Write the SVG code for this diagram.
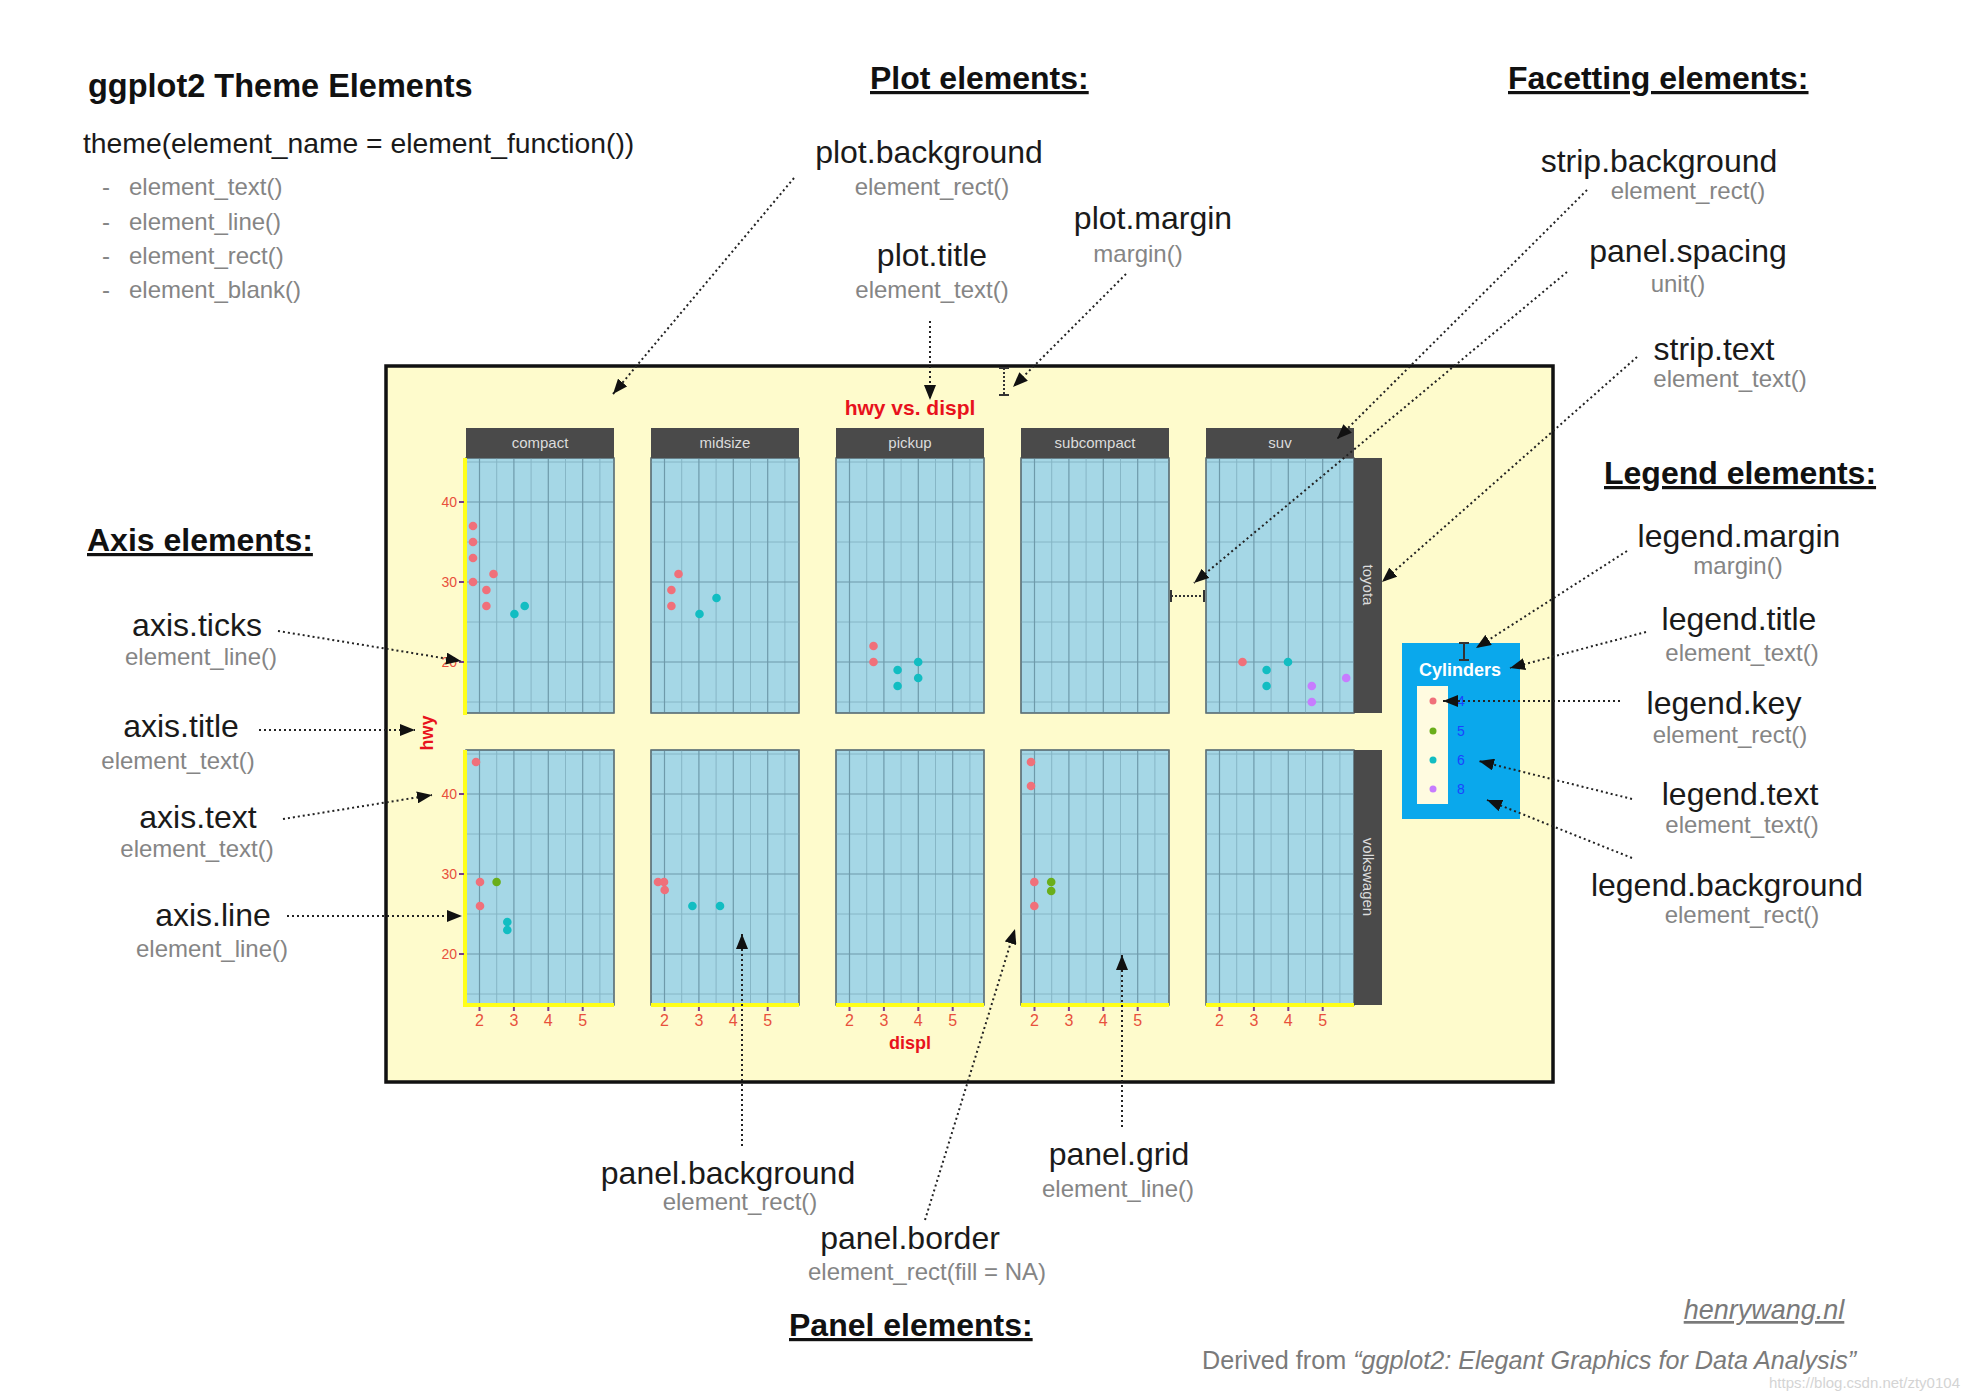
<svg xmlns="http://www.w3.org/2000/svg" xmlns:xlink="http://www.w3.org/1999/xlink" width="1969" height="1400" viewBox="0 0 1969 1400">
<style>
text{font-family:"Liberation Sans",Arial,sans-serif}
.hd{font-size:32px;font-weight:bold;fill:#111;text-decoration:underline}
.lbl{font-size:32px;fill:#1a1a1a;text-anchor:middle}
.sub{font-size:24px;fill:#858585;text-anchor:middle}
.bul{font-size:24px;fill:#858585}
.con{fill:none;stroke:#222;stroke-width:2;stroke-dasharray:2 3}
.ib{fill:none;stroke:#333;stroke-width:2}
.ibd{fill:none;stroke:#333;stroke-width:2;stroke-dasharray:2 2}
.pbg{fill:#a5d7e6;stroke:#5d7178;stroke-width:1.2}
.gmin{stroke:#86b6c6;stroke-width:1}
.gmaj{stroke:#6e9aaa;stroke-width:1.2}
.strip{fill:#4a4a4a}
.stxt{font-size:15px;fill:#dcdcdc;text-anchor:middle}
.ytk{font-size:14px;fill:#e8503c;text-anchor:end}
.xtk{font-size:16px;fill:#e8503c;text-anchor:middle}
.tick{stroke:#7a3f8a;stroke-width:2}
.yax{fill:#ffff1a}
.r{fill:#f0707a}.t{fill:#12bdc2}.g{fill:#6aae1a}.p{fill:#c77cff}
</style>
<defs>
<marker id="ah" markerUnits="userSpaceOnUse" markerWidth="16" markerHeight="12" refX="15" refY="6" orient="auto">
<path d="M0,0 L15,6 L0,12 z" fill="#111"/>
</marker>
<g id="panel">
<rect class="pbg" x="0" y="0" width="148" height="255"/>
<g class="gmin">
<line x1="0" y1="4" x2="148" y2="4"/><line x1="0" y1="84" x2="148" y2="84"/><line x1="0" y1="164" x2="148" y2="164"/><line x1="0" y1="244" x2="148" y2="244"/>
<line x1="30.7" y1="0" x2="30.7" y2="255"/><line x1="65.1" y1="0" x2="65.1" y2="255"/><line x1="99.5" y1="0" x2="99.5" y2="255"/><line x1="133.9" y1="0" x2="133.9" y2="255"/>
</g>
<g class="gmaj">
<line x1="0" y1="44" x2="148" y2="44"/><line x1="0" y1="124" x2="148" y2="124"/><line x1="0" y1="204" x2="148" y2="204"/>
<line x1="13.5" y1="0" x2="13.5" y2="255"/><line x1="47.9" y1="0" x2="47.9" y2="255"/><line x1="82.3" y1="0" x2="82.3" y2="255"/><line x1="116.7" y1="0" x2="116.7" y2="255"/>
</g>
<rect x="0" y="0" width="148" height="255" fill="none" stroke="#5d7178" stroke-width="1.2"/>
</g>
<g id="xaxis">
<rect class="yax" x="0" y="253" width="148" height="4"/>
<line class="tick" x1="13.5" y1="257" x2="13.5" y2="261"/><line class="tick" x1="47.9" y1="257" x2="47.9" y2="261"/><line class="tick" x1="82.3" y1="257" x2="82.3" y2="261"/><line class="tick" x1="116.7" y1="257" x2="116.7" y2="261"/>
<text class="xtk" x="13.5" y="276">2</text><text class="xtk" x="47.9" y="276">3</text><text class="xtk" x="82.3" y="276">4</text><text class="xtk" x="116.7" y="276">5</text>
</g>
</defs>
<rect x="0" y="0" width="1969" height="1400" fill="#ffffff"/>

<g id="header">
<text x="88" y="97" style="font-size:32.5px;font-weight:bold;fill:#111">ggplot2 Theme Elements</text>
<text x="83" y="153" style="font-size:28.3px;fill:#1a1a1a">theme(element_name = element_function())</text>
<text class="bul" x="102" y="195">-</text><text class="bul" x="129" y="195">element_text()</text>
<text class="bul" x="102" y="230">-</text><text class="bul" x="129" y="230">element_line()</text>
<text class="bul" x="102" y="264">-</text><text class="bul" x="129" y="264">element_rect()</text>
<text class="bul" x="102" y="298">-</text><text class="bul" x="129" y="298">element_blank()</text>
</g>

<g id="section-headers">
<text class="hd" x="870" y="89">Plot elements:</text>
<text class="hd" x="1508" y="89">Facetting elements:</text>
<text class="hd" x="87" y="551">Axis elements:</text>
<text class="hd" x="1604" y="484">Legend elements:</text>
<text class="hd" x="789" y="1336">Panel elements:</text>
</g>

<g id="plot">
<rect x="386" y="366" width="1167" height="716" fill="#fefbcc" stroke="#111" stroke-width="3.5"/>
<text x="910" y="415" style="font-size:21px;font-weight:bold;fill:#e8121c;text-anchor:middle">hwy vs. displ</text>
<text x="910" y="1049" style="font-size:18px;font-weight:bold;fill:#e8121c;text-anchor:middle">displ</text>
<text transform="translate(433,733) rotate(-90)" style="font-size:18px;font-weight:bold;fill:#e8121c;text-anchor:middle">hwy</text>

<g id="panels">
<use xlink:href="#panel" x="466" y="458"/><use xlink:href="#panel" x="651" y="458"/><use xlink:href="#panel" x="836" y="458"/><use xlink:href="#panel" x="1021" y="458"/><use xlink:href="#panel" x="1206" y="458"/>
<use xlink:href="#panel" x="466" y="750"/><use xlink:href="#panel" x="651" y="750"/><use xlink:href="#panel" x="836" y="750"/><use xlink:href="#panel" x="1021" y="750"/><use xlink:href="#panel" x="1206" y="750"/>
</g>

<g id="strips">
<rect class="strip" x="466" y="428" width="148" height="30"/><text class="stxt" x="540" y="448">compact</text>
<rect class="strip" x="651" y="428" width="148" height="30"/><text class="stxt" x="725" y="448">midsize</text>
<rect class="strip" x="836" y="428" width="148" height="30"/><text class="stxt" x="910" y="448">pickup</text>
<rect class="strip" x="1021" y="428" width="148" height="30"/><text class="stxt" x="1095" y="448">subcompact</text>
<rect class="strip" x="1206" y="428" width="148" height="30"/><text class="stxt" x="1280" y="448">suv</text>
<rect class="strip" x="1354" y="458" width="28" height="255"/><text class="stxt" transform="translate(1363,585) rotate(90)">toyota</text>
<rect class="strip" x="1354" y="750" width="28" height="255"/><text class="stxt" transform="translate(1363,877) rotate(90)">volkswagen</text>
</g>

<g id="axes">
<rect class="yax" x="463" y="458" width="4" height="257"/>
<rect class="yax" x="463" y="750" width="4" height="257"/>
<line class="tick" x1="459" y1="502" x2="464" y2="502"/><line class="tick" x1="459" y1="582" x2="464" y2="582"/><line class="tick" x1="459" y1="662" x2="464" y2="662"/>
<line class="tick" x1="459" y1="794" x2="464" y2="794"/><line class="tick" x1="459" y1="874" x2="464" y2="874"/><line class="tick" x1="459" y1="954" x2="464" y2="954"/>
<text class="ytk" x="457" y="507">40</text><text class="ytk" x="457" y="587">30</text><text class="ytk" x="457" y="667">20</text>
<text class="ytk" x="457" y="799">40</text><text class="ytk" x="457" y="879">30</text><text class="ytk" x="457" y="959">20</text>
<use xlink:href="#xaxis" x="466" y="750"/><use xlink:href="#xaxis" x="651" y="750"/><use xlink:href="#xaxis" x="836" y="750"/><use xlink:href="#xaxis" x="1021" y="750"/><use xlink:href="#xaxis" x="1206" y="750"/>
</g>

<g id="points">
<circle class="r" cx="473" cy="526" r="4.3"/><circle class="r" cx="473" cy="542" r="4.3"/><circle class="r" cx="473" cy="558" r="4.3"/><circle class="r" cx="473" cy="582" r="4.3"/><circle class="r" cx="493.5" cy="574" r="4.3"/><circle class="r" cx="486.4" cy="590" r="4.3"/><circle class="r" cx="486.4" cy="606" r="4.3"/><circle class="t" cx="514.4" cy="614" r="4.3"/><circle class="t" cx="524.7" cy="606" r="4.3"/>
<circle class="r" cx="678.5" cy="574" r="4.3"/><circle class="r" cx="671.4" cy="590" r="4.3"/><circle class="r" cx="671.4" cy="606" r="4.3"/><circle class="t" cx="699.5" cy="614" r="4.3"/><circle class="t" cx="716.5" cy="598" r="4.3"/>
<circle class="r" cx="873.5" cy="646" r="4.3"/><circle class="r" cx="873.5" cy="662" r="4.3"/><circle class="t" cx="897.6" cy="670" r="4.3"/><circle class="t" cx="897.6" cy="686" r="4.3"/><circle class="t" cx="918.2" cy="662" r="4.3"/><circle class="t" cx="918.2" cy="678" r="4.3"/>
<circle class="r" cx="1242.5" cy="662" r="4.3"/><circle class="t" cx="1266.6" cy="670" r="4.3"/><circle class="t" cx="1266.6" cy="686" r="4.3"/><circle class="t" cx="1288" cy="662" r="4.3"/><circle class="p" cx="1311.8" cy="686" r="4.3"/><circle class="p" cx="1311.8" cy="702" r="4.3"/><circle class="p" cx="1346.2" cy="678" r="4.3"/>
<circle class="r" cx="476" cy="762" r="4.3"/><circle class="r" cx="480" cy="882" r="4.3"/><circle class="r" cx="480" cy="906" r="4.3"/><circle class="g" cx="496.6" cy="882" r="4.3"/><circle class="t" cx="507.3" cy="922" r="4.3"/><circle class="t" cx="507.3" cy="930" r="4.3"/>
<circle class="r" cx="658" cy="882" r="4.3"/><circle class="r" cx="664" cy="882" r="4.3"/><circle class="r" cx="664.7" cy="890" r="4.3"/><circle class="t" cx="692.4" cy="906" r="4.3"/><circle class="t" cx="720" cy="906" r="4.3"/>
<circle class="r" cx="1031" cy="762" r="4.3"/><circle class="r" cx="1031" cy="786" r="4.3"/><circle class="r" cx="1034.3" cy="882" r="4.3"/><circle class="r" cx="1034.3" cy="906" r="4.3"/><circle class="g" cx="1051.2" cy="882" r="4.3"/><circle class="g" cx="1051.2" cy="891" r="4.3"/>
</g>

<g id="legend">
<rect x="1402" y="643" width="118" height="176" fill="#0aa8ec"/>
<text x="1460" y="676" style="font-size:18px;font-weight:bold;fill:#ffffff;text-anchor:middle">Cylinders</text>
<rect x="1417" y="686" width="31" height="118" fill="#fffbe0"/>
<circle class="r" cx="1433" cy="701" r="3.5"/><circle class="g" cx="1433" cy="731" r="3.5"/><circle class="t" cx="1433" cy="760" r="3.5"/><circle class="p" cx="1433" cy="789" r="3.5"/>
<text x="1457" y="706" style="font-size:14px;fill:#1a44ff">4</text>
<text x="1457" y="736" style="font-size:14px;fill:#1a44ff">5</text>
<text x="1457" y="765" style="font-size:14px;fill:#1a44ff">6</text>
<text x="1457" y="794" style="font-size:14px;fill:#1a44ff">8</text>
</g>
</g>

<g id="labels">
<g id="n-plot-background"><text class="lbl" x="929" y="163">plot.background</text><text class="sub" x="932" y="195">element_rect()</text></g>
<g id="n-plot-title"><text class="lbl" x="932" y="266">plot.title</text><text class="sub" x="932" y="298">element_text()</text></g>
<g id="n-plot-margin"><text class="lbl" x="1153" y="229">plot.margin</text><text class="sub" x="1138" y="262">margin()</text></g>
<g id="n-strip-background"><text class="lbl" x="1659" y="172">strip.background</text><text class="sub" x="1688" y="199">element_rect()</text></g>
<g id="n-panel-spacing"><text class="lbl" x="1688" y="262">panel.spacing</text><text class="sub" x="1678" y="292">unit()</text></g>
<g id="n-strip-text"><text class="lbl" x="1714" y="360">strip.text</text><text class="sub" x="1730" y="387">element_text()</text></g>
<g id="n-legend-margin"><text class="lbl" x="1739" y="547">legend.margin</text><text class="sub" x="1738" y="574">margin()</text></g>
<g id="n-legend-title"><text class="lbl" x="1739" y="630">legend.title</text><text class="sub" x="1742" y="661">element_text()</text></g>
<g id="n-legend-key"><text class="lbl" x="1724" y="714">legend.key</text><text class="sub" x="1730" y="743">element_rect()</text></g>
<g id="n-legend-text"><text class="lbl" x="1740" y="805">legend.text</text><text class="sub" x="1742" y="833">element_text()</text></g>
<g id="n-legend-background"><text class="lbl" x="1727" y="896">legend.background</text><text class="sub" x="1742" y="923">element_rect()</text></g>
<g id="n-axis-ticks"><text class="lbl" x="197" y="636">axis.ticks</text><text class="sub" x="201" y="665">element_line()</text></g>
<g id="n-axis-title"><text class="lbl" x="181" y="737">axis.title</text><text class="sub" x="178" y="769">element_text()</text></g>
<g id="n-axis-text"><text class="lbl" x="198" y="828">axis.text</text><text class="sub" x="197" y="857">element_text()</text></g>
<g id="n-axis-line"><text class="lbl" x="213" y="926">axis.line</text><text class="sub" x="212" y="957">element_line()</text></g>
<g id="n-panel-background"><text class="lbl" x="728" y="1184">panel.background</text><text class="sub" x="740" y="1210">element_rect()</text></g>
<g id="n-panel-grid"><text class="lbl" x="1119" y="1165">panel.grid</text><text class="sub" x="1118" y="1197">element_line()</text></g>
<g id="n-panel-border"><text class="lbl" x="910" y="1249">panel.border</text><text class="sub" x="927" y="1280">element_rect(fill = NA)</text></g>
</g>

<g id="connectors">
<line class="con" x1="794" y1="178" x2="613" y2="394" marker-end="url(#ah)"/>
<line class="con" x1="930" y1="321" x2="930" y2="400" marker-end="url(#ah)"/>
<line class="con" x1="1126" y1="274" x2="1013" y2="387" marker-end="url(#ah)"/>
<line class="con" x1="1587" y1="190" x2="1337" y2="439" marker-end="url(#ah)"/>
<line class="con" x1="1567" y1="272" x2="1194" y2="583" marker-end="url(#ah)"/>
<line class="con" x1="1637" y1="357" x2="1382" y2="582" marker-end="url(#ah)"/>
<line class="con" x1="1627" y1="551" x2="1476" y2="648" marker-end="url(#ah)"/>
<line class="con" x1="1646" y1="632" x2="1510" y2="668" marker-end="url(#ah)"/>
<line class="con" x1="1620" y1="701" x2="1443" y2="701" marker-end="url(#ah)"/>
<line class="con" x1="1632" y1="799" x2="1479" y2="761" marker-end="url(#ah)"/>
<line class="con" x1="1632" y1="858" x2="1487" y2="800" marker-end="url(#ah)"/>
<line class="con" x1="278" y1="631" x2="461" y2="661" marker-end="url(#ah)"/>
<line class="con" x1="259" y1="730" x2="415" y2="730" marker-end="url(#ah)"/>
<line class="con" x1="283" y1="819" x2="432" y2="795" marker-end="url(#ah)"/>
<line class="con" x1="287" y1="916" x2="462" y2="916" marker-end="url(#ah)"/>
<line class="con" x1="742" y1="1146" x2="742" y2="934" marker-end="url(#ah)"/>
<line class="con" x1="1122" y1="1127" x2="1122" y2="955" marker-end="url(#ah)"/>
<line class="con" x1="925" y1="1220" x2="1015" y2="929" marker-end="url(#ah)"/>
<g id="ibeams">
<line class="ibd" x1="1004" y1="368" x2="1004" y2="395"/><line class="ib" x1="999" y1="368" x2="1009" y2="368"/><line class="ib" x1="999" y1="395" x2="1009" y2="395"/>
<line class="ibd" x1="1171" y1="596" x2="1204" y2="596"/><line class="ib" x1="1171" y1="590" x2="1171" y2="602"/><line class="ib" x1="1204" y1="590" x2="1204" y2="602"/>
<line class="ib" x1="1464" y1="643" x2="1464" y2="660"/><line class="ib" x1="1459" y1="643" x2="1469" y2="643"/><line class="ib" x1="1459" y1="660" x2="1469" y2="660"/>
</g>
</g>

<g id="footer">
<text x="1764" y="1319" style="font-size:27px;font-style:italic;fill:#7a7a7a;text-anchor:middle;text-decoration:underline">henrywang.nl</text>
<text x="1202" y="1369" style="font-size:25.2px;fill:#7a7a7a">Derived from <tspan font-style="italic">“ggplot2: Elegant Graphics for Data Analysis”</tspan></text>
<text x="1960" y="1388" style="font-size:15px;fill:#d4d4d4;text-anchor:end">https://blog.csdn.net/zty0104</text>
</g>
</svg>
